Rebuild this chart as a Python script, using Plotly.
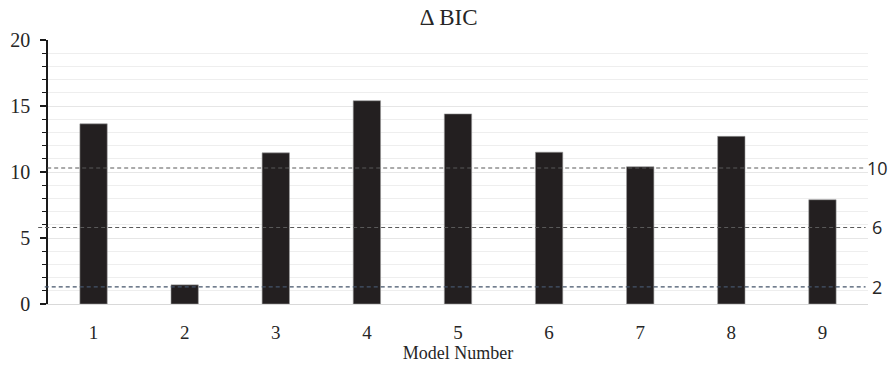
import plotly.graph_objects as go

# ---- data ----
models = ["1", "2", "3", "4", "5", "6", "7", "8", "9"]
delta_bic = [13.65, 1.45, 11.45, 15.4, 14.4, 11.5, 10.4, 12.7, 7.9]
threshold_values = [10.3, 5.8, 1.3]
threshold_labels = ["10", "6", "2"]
y_tick_values = [0, 5, 10, 15, 20]

# ---- styles ----
threshold_colors = ["#595959", "#595959", "#44546A"]
threshold_x0 = [-0.001, -0.012, -0.004]
serif = "Liberation Serif"

fig = go.Figure()
fig.add_trace(go.Bar(
    x=models, y=delta_bic,
    marker=dict(color="#231F20", line=dict(color="#9a9a9a", width=0.6)),
    showlegend=False,
))

for val, lab, col, x0 in zip(threshold_values, threshold_labels, threshold_colors, threshold_x0):
    fig.add_shape(type="line", xref="paper", yref="y", x0=x0, x1=0.997, y0=val, y1=val,
                  line=dict(color=col, width=1.1, dash="4px,3px"), layer="above")
    fig.add_annotation(xref="paper", yref="y", x=1.011, y=val, text=lab, showarrow=False,
                       xanchor="center", yanchor="middle",
                       font=dict(family="Open Sans", size=18, color="#262626"))

fig.update_layout(
    width=892, height=367,
    margin=dict(l=48, r=24, t=40, b=63),
    plot_bgcolor="white", paper_bgcolor="white",
    bargap=0.70,
    title=dict(text="Δ BIC", x=0.503, xanchor="center", y=0.953, yanchor="middle",
               font=dict(family=serif, size=23, color="#262626")),
    font=dict(family=serif, color="#262626"),
)
fig.update_xaxes(
    type="category", automargin=False,
    showline=True, linecolor="#D9D9D9", linewidth=1,
    ticks="outside", ticklen=11, tickcolor="rgba(0,0,0,0)",
    tickfont=dict(family=serif, size=19, color="#262626"),
    title=dict(text="Model Number", standoff=4, font=dict(family=serif, size=18, color="#262626")),
    showgrid=False,
)
fig.update_yaxes(
    range=[0, 20], tickvals=y_tick_values, automargin=False,
    showline=True, linecolor="#1a1a1a", linewidth=1.5,
    ticks="outside", ticklen=6, tickwidth=1.5, tickcolor="#1a1a1a",
    tickfont=dict(family=serif, size=20, color="#262626"),
    ticklabelstandoff=6,
    showgrid=True, gridcolor="#E6E6E6", gridwidth=1,
    zeroline=False,
    minor=dict(dtick=1, ticks="outside", ticklen=4, tickwidth=1.2, tickcolor="#1a1a1a",
               showgrid=True, gridcolor="#EEEEEE", gridwidth=1),
)

fig.write_html("out.html", config={"displayModeBar": False},
               post_script="document.body.style.margin='0';document.body.style.overflow='hidden';")
